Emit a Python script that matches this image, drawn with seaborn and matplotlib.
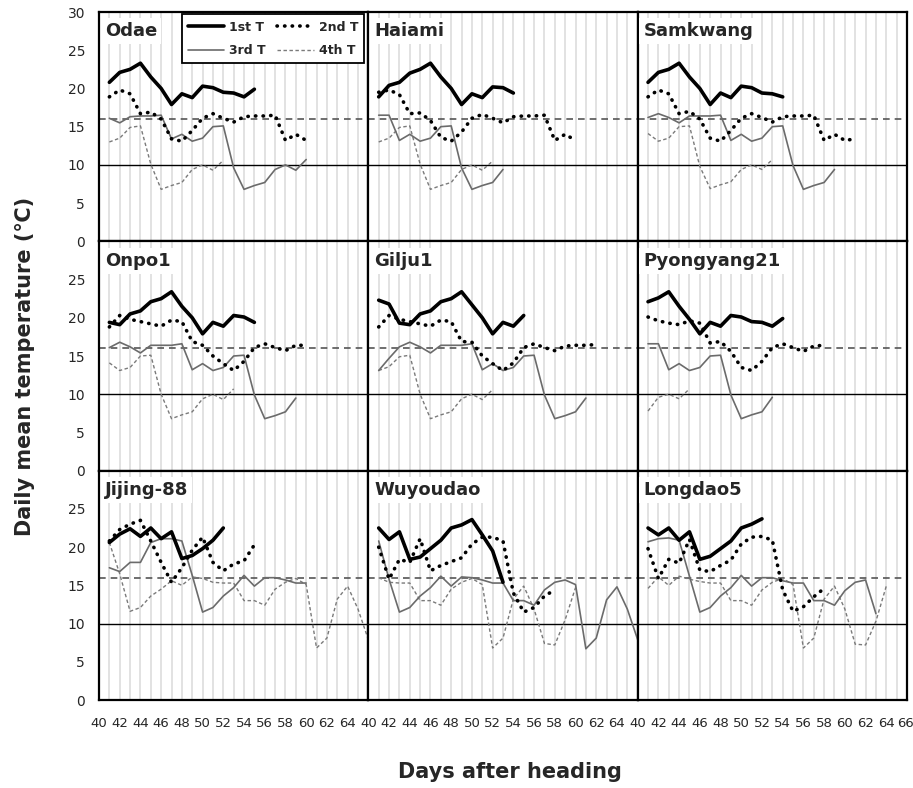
import numpy as np
import pandas as pd
import matplotlib
matplotlib.use("Agg")
import matplotlib.pyplot as plt
import matplotlib.transforms as mtransforms
from matplotlib.lines import Line2D
import seaborn as sns

# daily mean temperature (C) per variety and transplanting time, first value = day 41
FIRST_DAY = 41

ODAE_T1 = [20.8, 22.1, 22.5, 23.3, 21.5, 20.0, 17.9, 19.3, 18.8, 20.3, 20.1, 19.5, 19.4, 18.9, 19.9]
ODAE_T2 = [18.9, 19.8, 19.3, 16.7, 16.9, 16.0, 13.4, 13.1, 14.5, 16.1, 16.7, 16.1, 15.6, 16.3, 16.4,
           16.4, 16.5, 13.2, 14.0, 13.2]
ODAE_T3 = [16.1, 15.5, 16.3, 16.4, 16.4, 16.5, 13.4, 14.0, 13.1, 13.5, 15.0, 15.1, 9.6, 6.8, 7.3,
           7.7, 9.4, 10.0, 9.3, 10.7]
ODAE_T4 = [13.0, 13.5, 14.9, 15.1, 10.1, 6.8, 7.3, 7.7, 9.4, 10.0, 9.3, 10.6]

HAIAMI_T1 = [18.9, 20.4, 20.8, 22.0, 22.5, 23.3, 21.5, 20.0, 17.9, 19.3, 18.8, 20.2, 20.1, 19.4]
HAIAMI_T2 = [19.5, 19.8, 19.2, 16.7, 16.8, 15.8, 13.6, 13.1, 14.3, 16.1, 16.6, 16.1, 15.5, 16.3, 16.4,
             16.4, 16.5, 13.2, 14.0, 13.2]
HAIAMI_T3 = [16.5, 16.5, 13.2, 14.0, 13.1, 13.5, 15.0, 15.1, 9.6, 6.8, 7.3, 7.7, 9.4]
HAIAMI_T4 = [13.0, 13.5, 14.9, 15.1, 10.1, 6.8, 7.3, 7.7, 9.4, 10.0, 9.3, 10.5]

SAMKWANG_T1 = [20.8, 22.1, 22.5, 23.3, 21.5, 20.0, 17.9, 19.4, 18.8, 20.3, 20.1, 19.4, 19.3, 18.9]
SAMKWANG_T2 = [18.9, 19.8, 19.3, 16.7, 17.0, 16.0, 13.5, 13.1, 14.5, 16.1, 16.7, 16.2, 15.6, 16.3,
               16.4, 16.4, 16.5, 13.2, 14.0, 13.2, 13.4]
SAMKWANG_T3 = [16.2, 16.7, 16.2, 15.5, 16.4, 16.4, 16.4, 16.5, 13.2, 14.0, 13.1, 13.5, 15.0, 15.1,
               9.9, 6.8, 7.3, 7.7, 9.4]
SAMKWANG_T4 = [14.1, 13.1, 13.5, 15.0, 15.1, 9.8, 6.9, 7.4, 7.8, 9.4, 10.0, 9.4, 10.7]

ONPO1_T1 = [19.4, 19.1, 20.5, 20.9, 22.1, 22.5, 23.4, 21.5, 20.0, 17.9, 19.4, 18.9, 20.3, 20.1, 19.4]
ONPO1_T2 = [18.8, 20.3, 19.8, 19.5, 19.2, 18.9, 19.7, 19.5, 16.9, 16.4, 15.0, 14.0, 13.1, 14.3, 16.1,
            16.6, 16.1, 15.7, 16.4, 16.4]
ONPO1_T3 = [16.1, 16.8, 16.2, 15.4, 16.4, 16.4, 16.4, 16.6, 13.2, 14.0, 13.1, 13.5, 15.0, 15.1, 9.9,
            6.8, 7.2, 7.7, 9.5]
ONPO1_T4 = [14.1, 13.1, 13.5, 15.0, 15.1, 10.0, 6.8, 7.3, 7.7, 9.4, 10.0, 9.3, 10.7]

GILJU1_T1 = [22.3, 21.8, 19.3, 19.1, 20.5, 20.9, 22.1, 22.5, 23.4, 21.7, 20.0, 17.9, 19.4, 18.9, 20.3]
GILJU1_T2 = [18.8, 20.3, 19.8, 19.5, 19.2, 18.9, 19.7, 19.5, 16.9, 16.8, 15.0, 14.0, 13.1, 14.1, 16.1,
             16.6, 16.1, 15.7, 16.3, 16.4, 16.4, 16.5]
GILJU1_T3 = [13.1, 14.7, 16.2, 16.8, 16.2, 15.4, 16.4, 16.4, 16.4, 16.6, 13.2, 14.0, 13.1, 13.5, 15.0,
             15.1, 9.9, 6.8, 7.2, 7.7, 9.5]
GILJU1_T4 = [13.1, 13.6, 14.9, 15.1, 10.0, 6.8, 7.3, 7.7, 9.4, 10.0, 9.3, 10.6]

PYONG_T1 = [22.1, 22.6, 23.4, 21.5, 19.8, 17.9, 19.4, 18.9, 20.3, 20.1, 19.5, 19.4, 18.9, 19.9]
PYONG_T2 = [20.1, 19.6, 19.3, 19.1, 19.6, 19.3, 16.7, 16.9, 15.6, 13.5, 13.1, 14.3, 16.1, 16.6, 16.1,
            15.6, 16.3, 16.4]
PYONG_T3 = [16.6, 16.6, 13.2, 14.0, 13.1, 13.5, 15.0, 15.1, 9.9, 6.8, 7.3, 7.7, 9.6]
PYONG_T4 = [7.8, 9.6, 10.0, 9.4, 10.7]

JIJING_T1 = [20.6, 21.7, 22.4, 21.4, 22.5, 21.1, 22.0, 18.5, 18.9, 19.8, 20.9, 22.5]
JIJING_T2 = [20.8, 22.3, 23.0, 23.5, 20.8, 18.0, 15.4, 17.3, 19.6, 21.3, 18.0, 16.9, 17.8, 18.2, 20.3]
JIJING_T3 = [17.3, 16.8, 18.0, 18.0, 20.6, 21.1, 21.1, 20.8, 16.3, 11.5, 12.1, 13.6, 14.7, 16.3, 14.9,
             16.0, 16.0, 15.7, 15.3, 15.3]
JIJING_T4 = [20.6, 16.5, 11.6, 12.1, 13.6, 14.5, 15.6, 15.0, 16.1, 15.9, 15.4, 15.3, 15.3, 13.0, 13.0,
             12.4, 14.5, 15.4, 15.9, 15.1, 6.8, 8.1, 13.2, 14.9, 11.9, 7.9]

WUYOU_T1 = [22.5, 21.0, 22.0, 18.4, 18.7, 19.8, 20.9, 22.5, 22.9, 23.6, 21.6, 19.5, 15.4]
WUYOU_T2 = [20.0, 15.8, 18.4, 18.0, 21.1, 16.9, 17.6, 18.1, 18.6, 20.4, 21.3, 21.3, 20.8, 14.0, 11.5,
            12.1, 13.6, 14.4]
WUYOU_T3 = [20.8, 15.8, 11.5, 12.1, 13.6, 14.7, 16.2, 14.9, 16.1, 16.0, 15.7, 15.3, 15.3, 13.0, 13.0,
            12.4, 14.4, 15.4, 15.7, 15.1, 6.7, 8.1, 13.1, 14.8, 11.9, 7.9]
WUYOU_T4 = [16.0, 15.4, 15.3, 15.3, 13.0, 13.0, 12.4, 14.5, 15.4, 15.9, 15.1, 6.8, 8.1, 13.2, 14.9,
            11.9, 7.4, 7.2, 10.5, 14.7]

LONG_T1 = [22.5, 21.6, 22.5, 20.9, 22.0, 18.4, 18.8, 19.8, 20.8, 22.5, 23.0, 23.7]
LONG_T2 = [19.8, 15.9, 18.4, 17.9, 21.0, 17.0, 16.8, 17.6, 18.3, 20.4, 21.3, 21.4, 20.9, 14.4, 11.6,
           12.2, 13.5, 14.6]
LONG_T3 = [20.7, 21.1, 21.2, 20.9, 16.2, 11.5, 12.1, 13.6, 14.7, 16.3, 14.9, 16.0, 16.0, 15.6, 15.3,
           15.3, 13.0, 13.0, 12.4, 14.3, 15.4, 15.7, 11.3]
LONG_T4 = [14.6, 16.1, 15.0, 16.2, 15.8, 15.5, 15.3, 15.3, 13.0, 13.0, 12.4, 14.4, 15.4, 15.9, 15.1,
           6.8, 8.1, 13.2, 14.9, 11.9, 7.3, 7.2, 10.3, 14.9]

VARIETIES = ["Odae", "Haiami", "Samkwang", "Onpo1", "Gilju1", "Pyongyang21",
             "Jijing-88", "Wuyoudao", "Longdao5"]
SERIES = [
    (ODAE_T1, ODAE_T2, ODAE_T3, ODAE_T4),
    (HAIAMI_T1, HAIAMI_T2, HAIAMI_T3, HAIAMI_T4),
    (SAMKWANG_T1, SAMKWANG_T2, SAMKWANG_T3, SAMKWANG_T4),
    (ONPO1_T1, ONPO1_T2, ONPO1_T3, ONPO1_T4),
    (GILJU1_T1, GILJU1_T2, GILJU1_T3, GILJU1_T4),
    (PYONG_T1, PYONG_T2, PYONG_T3, PYONG_T4),
    (JIJING_T1, JIJING_T2, JIJING_T3, JIJING_T4),
    (WUYOU_T1, WUYOU_T2, WUYOU_T3, WUYOU_T4),
    (LONG_T1, LONG_T2, LONG_T3, LONG_T4),
]
T_LABELS = ["1st T", "2nd T", "3rd T", "4th T"]
X_TICKS = list(range(40, 67, 2))
Y_TICKS = list(range(0, 31, 5))

# line styles for the four transplanting times
STYLES = {
    "1st T": dict(color="black", linewidth=2.6, linestyle="-"),
    "2nd T": dict(color="black", linewidth=2.6, linestyle=(0, (0.1, 2.0)), dash_capstyle="round"),
    "3rd T": dict(color="#6b6b6b", linewidth=1.2, linestyle="-"),
    "4th T": dict(color="#7a7a7a", linewidth=1.0, linestyle=(0, (2.5, 1.8))),
}

sns.set_style("white")
plt.rcParams["font.family"] = ["DejaVu Sans"]

fig, axes = plt.subplots(3, 3, figsize=(9.13, 7.88), dpi=100)
fig.subplots_adjust(left=99 / 913, right=907 / 913, top=1 - 12 / 788, bottom=1 - 700 / 788,
                    wspace=0, hspace=0)

for i, (ax, name, series) in enumerate(zip(axes.flat, VARIETIES, SERIES)):
    row, col = divmod(i, 3)
    ax.set_xlim(40, 66)
    ax.set_ylim(0, 30)
    ax.set_xticks(range(41, 66), minor=True)
    ax.set_xticks(X_TICKS)
    ax.grid(axis="x", which="both", color="#e2e2e2", lw=1.4, zorder=0)
    ax.set_axisbelow(True)

    ax.axhline(10, color="black", lw=1.0, zorder=1)
    ax.axhline(16, color="#555555", lw=1.2, ls=(0, (4, 3)), zorder=1)

    for label, vals in reversed(list(zip(T_LABELS, series))):
        df = pd.DataFrame({"day": np.arange(FIRST_DAY, FIRST_DAY + len(vals)), "temp": vals})
        sns.lineplot(data=df, x="day", y="temp", ax=ax, legend=False, zorder=3, **STYLES[label])

    ax.set_xlabel("")
    ax.set_ylabel("")
    ax.tick_params(length=0, labelsize=10)
    ax.tick_params(axis="x", pad=12, labelsize=9.5)
    ax.tick_params(axis="y", pad=10)

    if row == 2:
        xl = [str(t) for t in X_TICKS]
        if col < 2:
            xl[-1] = ""
        ax.set_xticklabels(xl)
        for t in ax.get_xticklabels():
            t.set_fontfamily(["Liberation Sans Narrow", "DejaVu Sans"])
        if col == 2:
            # nudge the last label so it stays inside the figure
            last = ax.get_xticklabels()[-1]
            last.set_transform(last.get_transform()
                               + mtransforms.ScaledTranslation(-2 / 100, 0, fig.dpi_scale_trans))
    else:
        ax.set_xticklabels([])

    ax.set_yticks(Y_TICKS)
    if col == 0:
        yl = [str(t) for t in Y_TICKS]
        if row > 0:
            yl[-1] = ""
        ax.set_yticklabels(yl)
    else:
        ax.set_yticklabels([])

    for sp in ax.spines.values():
        sp.set_color("black")
        sp.set_linewidth(1.6)
        sp.set_visible(True)

    ax.text(0.022, 0.955, name, transform=ax.transAxes, fontsize=13, fontweight="bold",
            ha="left", va="top", zorder=4,
            bbox=dict(facecolor="white", edgecolor="none", pad=3))

handles = {lab: Line2D([], [], **STYLES[lab]) for lab in T_LABELS}
leg = axes[0, 0].legend([handles["1st T"], handles["3rd T"], handles["2nd T"], handles["4th T"]],
                        ["1st T", "3rd T", "2nd T", "4th T"],
                        ncol=2, loc="upper right", bbox_to_anchor=(0.985, 0.99),
                        borderaxespad=0, frameon=True, fancybox=False, framealpha=1,
                        prop={"weight": "bold", "size": 9}, handlelength=2.9,
                        handletextpad=0.4, columnspacing=0.9, labelspacing=0.85, borderpad=0.5)
leg.get_frame().set_edgecolor("black")
leg.get_frame().set_linewidth(1.3)
leg.set_zorder(5)

fig.text(0.027, 0.535, "Daily mean temperature (\u2103)", rotation=90, ha="center", va="center",
         fontsize=15, fontweight="bold")
fig.text(0.559, 0.02, "Days after heading", ha="center", va="center", fontsize=15,
         fontweight="bold")

fig.savefig("out.png", dpi=100)
